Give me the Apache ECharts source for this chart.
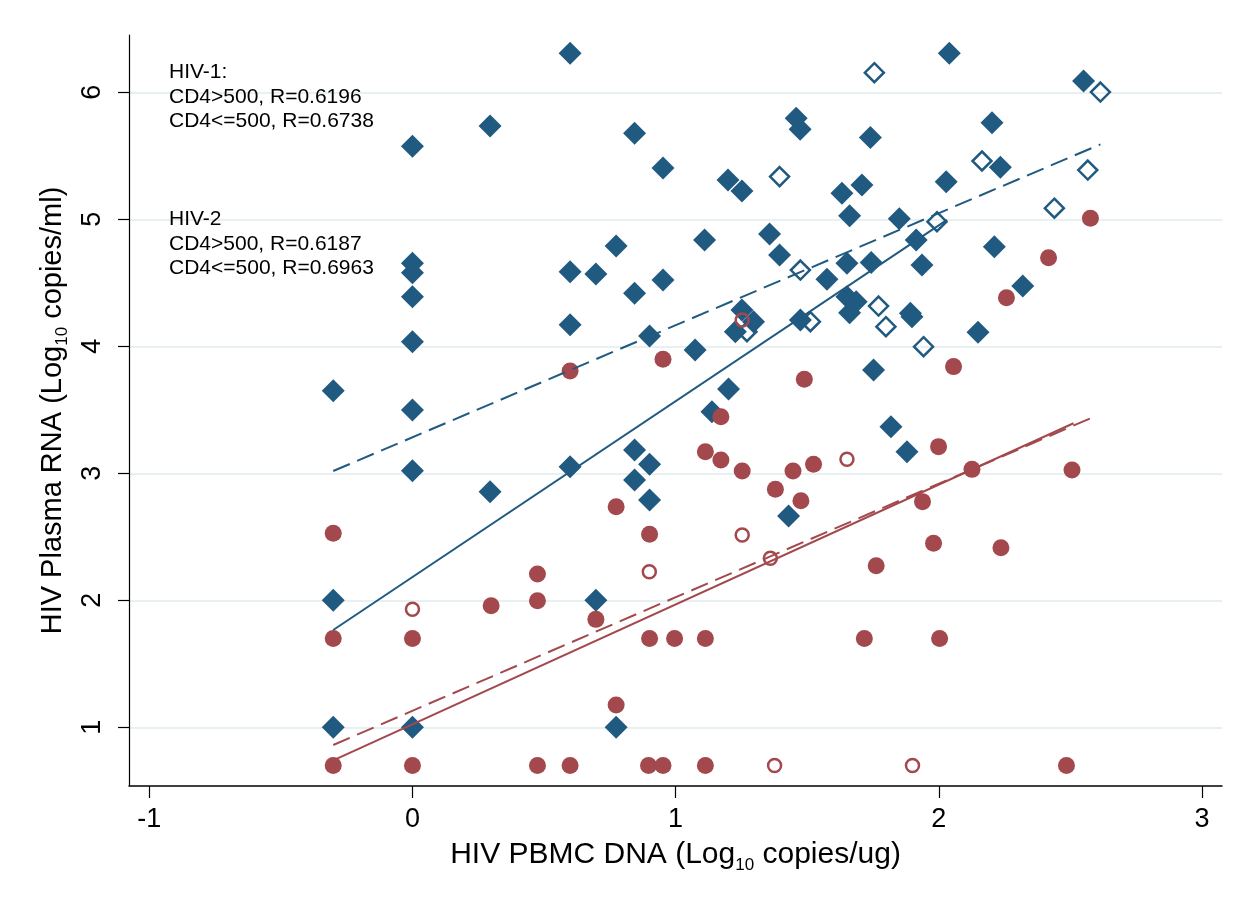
<!DOCTYPE html>
<html>
<head>
<meta charset="utf-8">
<script src="https://cdn.jsdelivr.net/npm/echarts@6/dist/echarts.min.js"></script>
<style>
  html, body { margin: 0; padding: 0; background: #fff; }
  #chart { width: 1249px; height: 906px; }
</style>
</head>
<body>
<div id="chart"></div>
<script>
// HIV-1 (diamonds): filled = CD4>500, hollow = CD4<=500
const hiv1Filled = [
  [-0.301, 3.65], [-0.301, 2.0], [-0.301, 1.0],
  [0, 5.575], [0, 4.654], [0, 4.58], [0, 4.39], [0, 4.036], [0, 3.498], [0, 3.02], [0, 1.0],
  [0.295, 5.735], [0.295, 2.855],
  [0.599, 6.307], [0.599, 4.587], [0.599, 4.17], [0.599, 3.052],
  [0.697, 4.569], [0.697, 2.0],
  [0.774, 4.79], [0.774, 1.0],
  [0.844, 5.677], [0.844, 4.417], [0.844, 3.183], [0.844, 2.947],
  [0.901, 4.081], [0.901, 3.071], [0.901, 2.79],
  [0.952, 5.404], [0.952, 4.522],
  [1.074, 3.971], [1.11, 4.837], [1.138, 3.485],
  [1.199, 5.31], [1.201, 3.664],
  [1.252, 5.223], [1.252, 4.286], [1.296, 4.194], [1.227, 4.115],
  [1.357, 4.884], [1.395, 4.719], [1.429, 2.664],
  [1.458, 5.795], [1.473, 5.709], [1.474, 4.207], [1.575, 4.527],
  [1.632, 5.205], [1.708, 5.27], [1.661, 5.028],
  [1.651, 4.654], [1.651, 4.39], [1.686, 4.351], [1.661, 4.265],
  [1.74, 5.643], [1.743, 4.66], [1.752, 3.813],
  [1.818, 3.367], [1.879, 3.17], [1.85, 5.005],
  [1.892, 4.26], [1.898, 4.233], [1.914, 4.837], [1.936, 4.64],
  [2.028, 5.296], [2.04, 6.307], [2.149, 4.11],
  [2.202, 5.761], [2.211, 4.784], [2.234, 5.41], [2.319, 4.475],
  [2.55, 6.089]
];
const hiv1Hollow = [
  [1.755, 6.154], [2.614, 6.002], [2.164, 5.459], [2.566, 5.388], [1.395, 5.336],
  [2.439, 5.087], [1.993, 4.981], [1.474, 4.6], [1.771, 4.317], [1.799, 4.154],
  [1.271, 4.115], [1.512, 4.194], [1.942, 3.997]
];
// HIV-2 (circles): filled = CD4>500, hollow = CD4<=500
const hiv2Filled = [
  [-0.301, 2.528], [-0.301, 1.699], [-0.301, 0.699],
  [0, 1.699], [0, 0.699],
  [0.299, 1.957],
  [0.475, 2.207], [0.475, 1.997], [0.475, 0.699],
  [0.599, 3.806], [0.599, 0.699],
  [0.697, 1.85],
  [0.774, 2.737], [0.774, 1.176],
  [0.901, 2.52], [0.901, 1.699], [0.897, 0.699],
  [0.952, 3.898], [0.952, 0.699],
  [0.996, 1.699],
  [1.113, 3.17], [1.113, 1.699], [1.113, 0.699],
  [1.172, 3.446], [1.172, 3.105],
  [1.253, 3.018], [1.379, 2.874],
  [1.446, 3.018], [1.476, 2.784], [1.489, 3.74], [1.524, 3.071],
  [1.717, 1.699], [1.762, 2.272],
  [1.938, 2.777], [1.98, 2.449], [1.999, 3.21], [2.003, 1.699],
  [2.056, 3.84], [2.126, 3.031],
  [2.236, 2.414], [2.257, 4.383], [2.417, 4.698],
  [2.485, 0.699], [2.506, 3.026], [2.576, 5.008]
];
const hiv2Hollow = [
  [0, 1.93], [0.9, 2.225], [1.253, 4.207], [1.253, 2.514],
  [1.36, 2.331], [1.376, 0.699], [1.651, 3.11], [1.9, 0.699]
];
// linear fits (end points)
const fit1Solid = [[-0.301, 1.766], [2.031, 4.995]];
const fit1Dash = [[-0.301, 3.018], [2.614, 5.59]];
const fit2Solid = [[-0.301, 0.74], [2.512, 3.394]];
const fit2Dash = [[-0.301, 0.861], [2.576, 3.433]];

const xTicks = [-1, 0, 1, 2, 3];
const yTicks = [1, 2, 3, 4, 5, 6];

const blue = '#215a80';
const red = '#a3484c';
const font = '"Liberation Sans", Arial, Helvetica, sans-serif';

const chart = echarts.init(document.getElementById('chart'));

const scatter = (data, symbol, size, color, hollow, z) => ({
  type: 'scatter',
  data: data,
  symbol: symbol,
  symbolSize: size,
  z: z,
  silent: true,
  itemStyle: hollow
    ? { color: 'rgba(255,255,255,0)', borderColor: color, borderWidth: 2.5, opacity: 1 }
    : { color: color, opacity: 1 },
  emphasis: { disabled: true }
});

const fitLine = (data, color, dashed) => ({
  type: 'line',
  data: data,
  showSymbol: false,
  symbol: 'none',
  silent: true,
  z: 10,
  lineStyle: { color: color, width: 2, type: dashed ? [18, 8] : 'solid' },
  emphasis: { disabled: true }
});

// subscript "10": taller line box, sub token sits at its bottom
const titleRich = (size) => ({
  a: { fontSize: size, lineHeight: size, verticalAlign: 'top', fontFamily: font, color: '#000' },
  s: { fontSize: 17, lineHeight: size + 4, verticalAlign: 'bottom', fontFamily: font, color: '#000' }
});

const option = {
  animation: false,
  backgroundColor: '#fff',
  textStyle: { fontFamily: font },
  grid: { left: 129, right: 27, top: 35, bottom: 120 },
  xAxis: {
    type: 'value',
    min: -1.077,
    max: 3.076,
    name: '{a|HIV PBMC DNA (Log}{s|10}{a| copies/ug)}',
    nameLocation: 'middle',
    nameGap: 54,
    nameTextStyle: { rich: titleRich(30) },
    axisLine: { show: true, onZero: false, lineStyle: { color: '#000', width: 1.5 } },
    axisTick: { show: true, length: 12, customValues: xTicks, lineStyle: { color: '#000', width: 1.2 } },
    axisLabel: { customValues: xTicks, fontSize: 27, color: '#000', margin: 20, fontFamily: font },
    splitLine: { show: false }
  },
  yAxis: {
    type: 'value',
    min: 0.538,
    max: 6.451,
    name: '{a|HIV Plasma RNA (Log}{s|10}{a| copies/ml)}',
    nameLocation: 'middle',
    nameGap: 53,
    nameTextStyle: { rich: titleRich(29) },
    axisLine: { show: true, onZero: false, lineStyle: { color: '#000', width: 1.2 } },
    axisTick: { show: true, length: 11, customValues: yTicks, lineStyle: { color: '#000', width: 1.2 } },
    axisLabel: { customValues: yTicks, rotate: 90, fontSize: 27, color: '#000', margin: 23, fontFamily: font },
    splitLine: { show: true, lineStyle: { color: '#e8f0f1', width: 2 } }
  },
  graphic: [
    {
      type: 'text', left: 169, top: 60, z: 100,
      style: { text: 'HIV-1:\nCD4>500, R=0.6196\nCD4<=500, R=0.6738', font: '21px ' + font, fill: '#000', lineHeight: 24.5 }
    },
    {
      type: 'text', left: 169, top: 207, z: 100,
      style: { text: 'HIV-2\nCD4>500, R=0.6187\nCD4<=500, R=0.6963', font: '21px ' + font, fill: '#000', lineHeight: 24.5 }
    }
  ],
  series: [
    scatter(hiv1Filled, 'diamond', 23, blue, false, 2),
    scatter(hiv1Hollow, 'diamond', 19, blue, true, 3),
    scatter(hiv2Filled, 'circle', 17, red, false, 4),
    scatter(hiv2Hollow, 'circle', 13, red, true, 5),
    fitLine(fit1Solid, blue, false),
    fitLine(fit1Dash, blue, true),
    fitLine(fit2Solid, red, false),
    fitLine(fit2Dash, red, true)
  ]
};

chart.setOption(option);
</script>
</body>
</html>
